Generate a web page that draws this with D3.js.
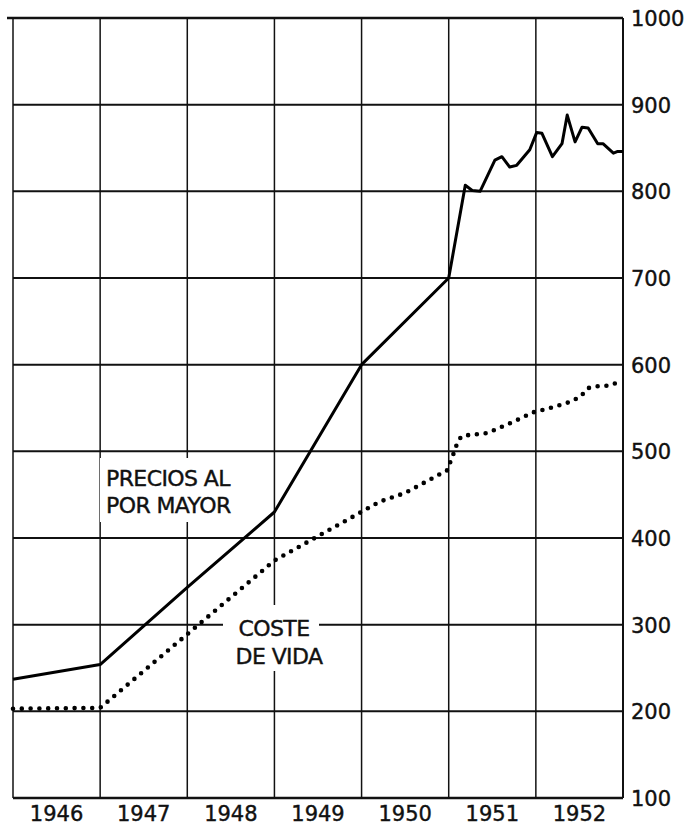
<!doctype html>
<html lang="es">
<head>
    <meta charset="utf-8">
    <title>Precios al por mayor y coste de vida, 1946-1952</title>
    <script src="https://d3js.org/d3.v7.min.js"></script>
    <style>
        html, body { margin: 0; padding: 0; background: #fff; }
        svg { display: block; }
        text { font-family: "DejaVu Sans", sans-serif; fill: #111; stroke: #111; stroke-width: 0.4px; }
    </style>
</head>
<body>
<svg id="chart" width="689" height="828"></svg>

<script>
    // year columns along the bottom
    const years = [1946, 1947, 1948, 1949, 1950, 1951, 1952];
    // index values on the right
    const yTicks = [100, 200, 300, 400, 500, 600, 700, 800, 900, 1000];

    // precios al por mayor (solid line), decimal years
    const wholesaleDates = [1946.0, 1947.0, 1948.0, 1949.0, 1950.0, 1951.0,
        1951.19, 1951.27, 1951.36, 1951.53, 1951.61, 1951.70, 1951.78, 1951.93,
        1952.01, 1952.07, 1952.19, 1952.30, 1952.36, 1952.45, 1952.53, 1952.60,
        1952.71, 1952.77, 1952.89, 1952.94, 1953.0];
    const wholesaleValues = [237, 254, 343, 430, 600, 700,
        807, 801, 800, 836, 840, 828, 830, 848,
        868, 867, 840, 855, 888, 857, 874, 873,
        855, 855, 844, 846, 846];

    // coste de vida (dotted line)
    const livingDates = [1946.0, 1947.0, 1949.0, 1950.21, 1950.5, 1950.98,
        1951.04, 1951.11, 1951.16, 1951.44, 1951.74, 1951.97,
        1952.20, 1952.39, 1952.51, 1952.60, 1952.70, 1952.85, 1953.0];
    const livingValues = [203, 204, 374, 442, 452, 478,
        493, 513, 518, 521, 534, 545,
        551, 557, 563, 573, 575, 576, 582];

    const plotL = 13, plotR = 623, plotT = 18, plotB = 798;

    const svg = d3.select("#chart");

    const x = d3.scaleLinear().domain([1946, 1953]).range([plotL, plotR]);
    const y = d3.scaleLinear().domain([100, 1000]).range([plotB, plotT]);

    // grid
    const grid = svg.append("g").attr("stroke", "#111").attr("fill", "none");

    grid.selectAll("line.h")
        .data(yTicks)
        .join("line")
        .attr("class", "h")
        .attr("x1", d => d === 1000 ? plotL - 6 : plotL)
        .attr("x2", plotR)
        .attr("y1", d => y(d))
        .attr("y2", d => y(d))
        .attr("stroke-width", d => (d === 100 || d === 1000) ? 2.4 : 2);

    const vLines = years.concat([1953]);
    grid.selectAll("line.v")
        .data(vLines)
        .join("line")
        .attr("class", "v")
        .attr("x1", d => x(d))
        .attr("x2", d => x(d))
        .attr("y1", plotT)
        .attr("y2", plotB)
        .attr("stroke-width", d => d === 1953 ? 2 : 1.5);

    // white boxes behind the labels knock out the grid
    svg.append("rect").attr("x", 100).attr("y", 458)
        .attr("width", 143).attr("height", 64).attr("fill", "#fff");
    svg.append("rect").attr("x", 223).attr("y", 605)
        .attr("width", 96).attr("height", 36).attr("fill", "#fff");
    svg.append("rect").attr("x", 223).attr("y", 640)
        .attr("width", 112).attr("height", 31).attr("fill", "#fff");

    // right axis labels
    const yAxis = d3.axisRight(y).tickValues(yTicks)
        .tickFormat(d3.format("d")).tickSize(0).tickPadding(8);
    const ya = svg.append("g")
        .attr("transform", `translate(${plotR},0)`)
        .call(yAxis);
    ya.select(".domain").remove();
    ya.selectAll("text")
        .style("font-size", "21px")
        .attr("fill", "#111")
        .attr("dy", "0.36em");

    // year labels centred in each column
    svg.append("g")
        .selectAll("text")
        .data(years)
        .join("text")
        .attr("x", d => x(d + 0.5))
        .attr("y", 821)
        .attr("text-anchor", "middle")
        .style("font-size", "21px")
        .text(d => d);

    // series
    const wholesale = wholesaleDates.map((d, i) => [d, wholesaleValues[i]]);
    const living = livingDates.map((d, i) => [d, livingValues[i]]);

    const line = d3.line()
        .x(d => x(d[0]))
        .y(d => y(d[1]));

    svg.append("path")
        .datum(wholesale)
        .attr("d", line)
        .attr("fill", "none")
        .attr("stroke", "#000")
        .attr("stroke-width", 3)
        .attr("stroke-linejoin", "round");

    svg.append("path")
        .datum(living)
        .attr("d", line)
        .attr("fill", "none")
        .attr("stroke", "#000")
        .attr("stroke-width", 4.6)
        .attr("stroke-linecap", "round")
        .attr("stroke-dasharray", "0 8.8");

    // series labels
    const labels = svg.append("g").style("font-size", "22px");
    labels.append("text").attr("x", 106).attr("y", 486)
        .attr("letter-spacing", "-0.6").text("PRECIOS AL");
    labels.append("text").attr("x", 106).attr("y", 513)
        .attr("letter-spacing", "-0.6").text("POR MAYOR");
    labels.append("text").attr("x", 274).attr("y", 636)
        .attr("text-anchor", "middle")
        .attr("letter-spacing", "-0.6").text("COSTE");
    labels.append("text").attr("x", 279).attr("y", 664)
        .attr("text-anchor", "middle")
        .attr("letter-spacing", "-0.6").text("DE VIDA");
</script>
</body>
</html>
